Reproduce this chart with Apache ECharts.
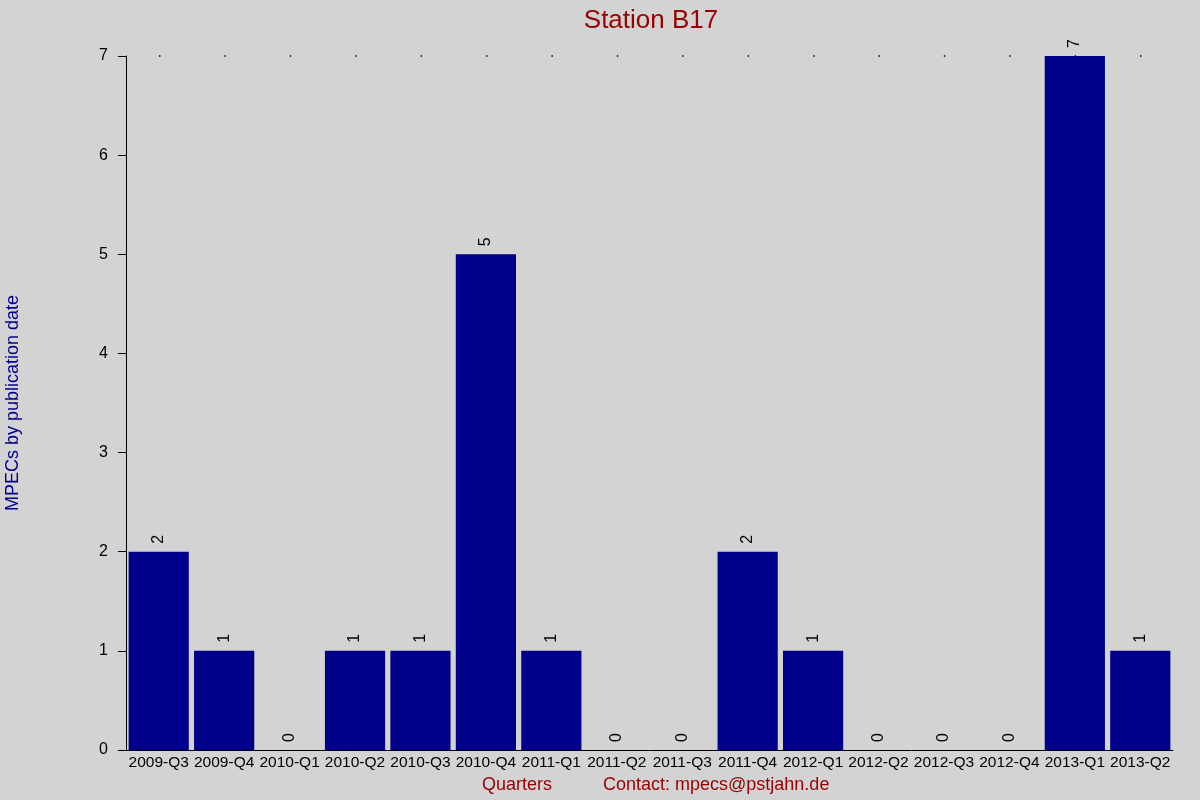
<!DOCTYPE html>
<html>
<head>
<meta charset="utf-8">
<script src="https://cdn.jsdelivr.net/npm/echarts@6/dist/echarts.min.js"></script>
<style>
  html, body { margin: 0; padding: 0; background: #d3d3d3; }
  #main { width: 1200px; height: 800px; }
</style>
</head>
<body>
<div id="main"></div>
<script>
// quarters on the x axis
var quarters = ['2009-Q3', '2009-Q4', '2010-Q1', '2010-Q2', '2010-Q3', '2010-Q4', '2011-Q1', '2011-Q2',
    '2011-Q3', '2011-Q4', '2012-Q1', '2012-Q2', '2012-Q3', '2012-Q4', '2013-Q1', '2013-Q2'];
// MPECs per quarter
var mpecs = [2, 1, 0, 1, 1, 5, 1, 0, 0, 2, 1, 0, 0, 0, 7, 1];
var yMax = 7;

var font = 'Liberation Sans, Arial, sans-serif';

var chart = echarts.init(document.getElementById('main'));

var option = {
    backgroundColor: '#d3d3d3',
    animation: false,
    title: {
        text: 'Station B17',
        left: 646,
        textAlign: 'center',
        top: 3,
        textStyle: { color: '#990000', fontSize: 26, fontWeight: 'normal', fontFamily: font }
    },
    grid: { left: 126, right: 27, top: 56, bottom: 50, containLabel: false, outerBoundsMode: 'none' },
    xAxis: {
        type: 'category',
        data: quarters,
        axisLine: { lineStyle: { color: '#000', width: 1 } },
        axisTick: { show: false },
        axisLabel: { color: '#000', fontSize: 15.5, fontFamily: font, margin: 5, interval: 0 }
    },
    yAxis: {
        type: 'value',
        min: 0,
        max: yMax,
        interval: 1,
        name: 'MPECs by publication date',
        nameLocation: 'middle',
        nameGap: 104,
        nameTextStyle: { color: '#00008b', fontSize: 18, fontFamily: font },
        axisLine: { show: true, lineStyle: { color: '#000', width: 1 } },
        axisTick: { show: true, length: 8, lineStyle: { color: '#000' } },
        axisLabel: { color: '#000', fontSize: 16, fontFamily: font, margin: 18 },
        splitLine: { show: false }
    },
    series: [{
        type: 'bar',
        data: mpecs,
        barCategoryGap: '8%',
        itemStyle: { color: '#00008b' },
        label: {
            show: true,
            position: 'top',
            rotate: 90,
            align: 'left',
            verticalAlign: 'middle',
            distance: 8,
            color: '#000',
            fontSize: 16,
            fontFamily: font
        },
        markLine: {
            silent: true,
            symbol: 'none',
            label: { show: false },
            lineStyle: { color: '#000', width: 1.5, type: [1.5, 63.9], dashOffset: 32.4 },
            data: [{ yAxis: yMax }]
        }
    }],
    graphic: [
        {
            type: 'text',
            left: 482,
            top: 776,
            style: { text: 'Quarters', fill: '#990000', fontSize: 18, fontFamily: font }
        },
        {
            type: 'text',
            left: 603,
            top: 776,
            style: { text: 'Contact: mpecs@pstjahn.de', fill: '#990000', fontSize: 18, fontFamily: font }
        }
    ]
};

chart.setOption(option);
</script>
</body>
</html>
